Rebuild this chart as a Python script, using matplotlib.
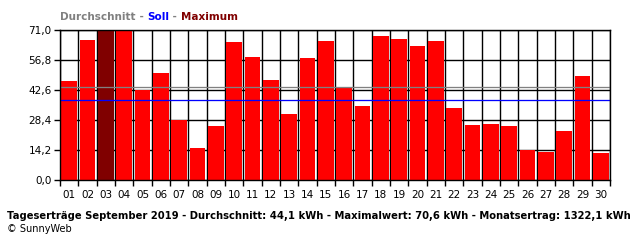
import matplotlib
matplotlib.use("Agg")
import matplotlib.pyplot as plt
from matplotlib.ticker import FixedLocator

days = ["%02d" % d for d in range(1, 31)]
ertrag = [47.0, 66.4, 70.6, 70.4, 42.8, 50.8, 28.6, 15.3, 25.7, 65.5,
          58.4, 47.5, 31.4, 57.9, 66.0, 44.2, 35.2, 68.3, 66.9, 63.6,
          66.0, 34.2, 26.2, 26.7, 25.7, 14.0, 13.4, 23.4, 49.4, 12.9]
durchschnitt = 44.1
soll = 37.9
y_ticks = [0.0, 14.2, 28.4, 42.6, 56.8, 71.0]
y_labels = ["0,0", "14,2", "28,4", "42,6", "56,8", "71,0"]
footer = "Tageserträge September 2019 - Durchschnitt: 44,1 kWh - Maximalwert: 70,6 kWh - Monatsertrag: 1322,1 kWh"

px = 0.72  # one pixel in points at dpi 100

fig = plt.figure(figsize=(6.4, 2.4), dpi=100)
ax = fig.add_axes([60 / 640, 60 / 240, 550 / 640, 150 / 240])

imax = ertrag.index(max(ertrag))
colors = ["#800000" if i == imax else "#ff0000" for i in range(len(ertrag))]
pos = list(range(len(days)))
ax.bar(pos, ertrag, width=0.84, color=colors, zorder=3)

ax.axhline(durchschnitt, color="#808080", lw=1.3 * px, zorder=4)
ax.axhline(soll, color="#0000ff", lw=1.3 * px, zorder=4)

ax.set_xlim(-0.5, len(days) - 0.5)
ax.set_ylim(0, 71.0)

# labels at day centres, ticks/grid at day boundaries
ax.set_xticks(pos)
ax.set_xticklabels(days)
ax.xaxis.set_minor_locator(FixedLocator([p - 0.5 for p in pos] + [len(days) - 0.5]))
ax.tick_params(axis="x", which="major", length=0, pad=7, labelsize=7.5)
ax.tick_params(axis="x", which="minor", length=4, width=1.4 * px, direction="out")
ax.set_yticks(y_ticks)
ax.set_yticklabels(y_labels)
ax.tick_params(axis="y", length=4, width=1.4 * px, pad=2, labelsize=7.5)

ax.grid(axis="x", which="minor", color="black", lw=1.4 * px, zorder=1)
ax.grid(axis="y", which="major", color="black", lw=1.4 * px, zorder=1)
ax.set_axisbelow(True)
for s in ax.spines.values():
    s.set_linewidth(1.4 * px)
    s.set_zorder(5)

# legend-like title in three colours
t1 = fig.text(60 / 640, 1 - 17 / 240, "Durchschnitt", color="#808080",
              fontsize=7.5, fontweight="bold", va="center")
t2 = ax.annotate(" - ", xy=(1, 0), xycoords=t1, va="bottom", color="#808080",
                 fontsize=7.5, fontweight="bold")
t3 = ax.annotate("Soll", xy=(1, 0), xycoords=t2, va="bottom", color="#0000ff",
                 fontsize=7.5, fontweight="bold")
t4 = ax.annotate(" - ", xy=(1, 0), xycoords=t3, va="bottom", color="#808080",
                 fontsize=7.5, fontweight="bold")
ax.annotate("Maximum", xy=(1, 0), xycoords=t4, va="bottom", color="#800000",
            fontsize=7.5, fontweight="bold")

fig.text(7 / 640, 1 - 216 / 240, footer, fontsize=7.2, fontweight="bold",
         va="center", ha="left")
fig.text(7 / 640, 1 - 229 / 240, "© SunnyWeb", fontsize=7, va="center", ha="left")

fig.savefig("out.png", dpi=100)
